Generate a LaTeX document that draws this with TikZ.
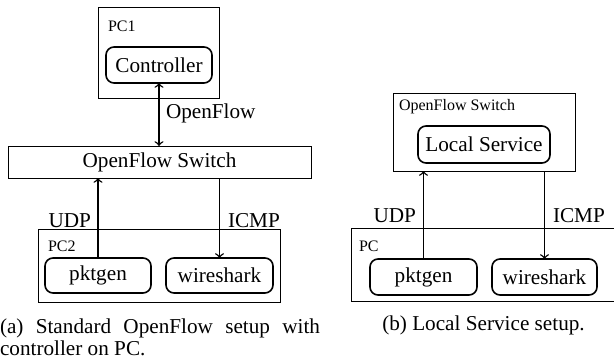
\documentclass[tikz,border=0pt]{standalone}
\usepackage{fontspec}
\setmainfont{Liberation Serif}
\usetikzlibrary{arrows}
\begin{document}
\begin{tikzpicture}[x=0.5pt,y=-0.5pt,>=to,
  every node/.style={inner sep=0pt,outer sep=0pt,font=\fontsize{10.6}{11}\selectfont},
  frame/.style={draw,line width=0.5pt,rectangle},
  proc/.style={draw,line width=0.8pt,rectangle,rounded corners=4pt},
  tag/.style={font=\fontsize{8}{9}\selectfont,anchor=base west},
  link/.style={line width=0.7pt}]
\useasboundingbox (0,0) rectangle (614,358);

% ---- (a) standard setup ----
\node[frame,minimum width=60.5pt,minimum height=45pt] (pc1) at (158.5,53) {};
\node[tag] (pc1lbl) at (108,32) {PC1};
\node[proc,minimum width=53pt,minimum height=18pt] (ctrl) at (159,65) {Controller};
\node[frame,minimum width=151.5pt,minimum height=16pt] (sw1) at (159.5,162) {OpenFlow Switch};
\draw[link,<->] (ctrl.south) -- (ctrl.south |- sw1.north);
\node[anchor=west] (oflbl) at (166,113) {OpenFlow};

\node[frame,minimum width=121pt,minimum height=36.5pt] (pc2) at (159,265.5) {};
\node[tag] (pc2lbl) at (48,251) {PC2};
\node[proc,minimum width=53pt,minimum height=17.5pt] (gen1) at (98,275.5) {pktgen};
\node[proc,minimum width=53.5pt,minimum height=17.5pt] (ws1) at (219.5,275.5) {wireshark};
\draw[link,->] (gen1.north) -- (gen1.north |- sw1.south);
\draw[link,->] (ws1.north |- sw1.south) -- (ws1.north);
\node[anchor=base east] (udp1) at (91,227) {UDP};
\node[anchor=base west] (icmp1) at (228,227) {ICMP};

\node[anchor=north west,text width=160pt,align=justify] (capa) at (0,319)
  {(a) Standard OpenFlow setup with controller on PC.};

% ---- (b) local service setup ----
\node[frame,minimum width=91pt,minimum height=39pt] (sw2) at (484,132) {};
\node[tag] (sw2lbl) at (399,110) {OpenFlow Switch};
\node[proc,minimum width=66pt,minimum height=18.5pt] (local) at (484,144.5) {Local Service};

\node[frame,minimum width=134.5pt,minimum height=36.5pt] (pc) at (485.5,264.5) {};
\node[tag] (pclbl) at (359,251) {PC};
\node[proc,minimum width=53.5pt,minimum height=18pt] (gen2) at (423.5,277) {pktgen};
\node[proc,minimum width=52.5pt,minimum height=18pt] (ws2) at (544.5,277) {wireshark};
\draw[link,->] (gen2.north) -- (gen2.north |- sw2.south);
\draw[link,->] (ws2.north |- sw2.south) -- (ws2.north);
\node[anchor=base east] (udp2) at (416,222) {UDP};
\node[anchor=base west] (icmp2) at (553,222) {ICMP};

\node[anchor=base] (capb) at (483.5,330) {(b) Local Service setup.};
\end{tikzpicture}
\end{document}
